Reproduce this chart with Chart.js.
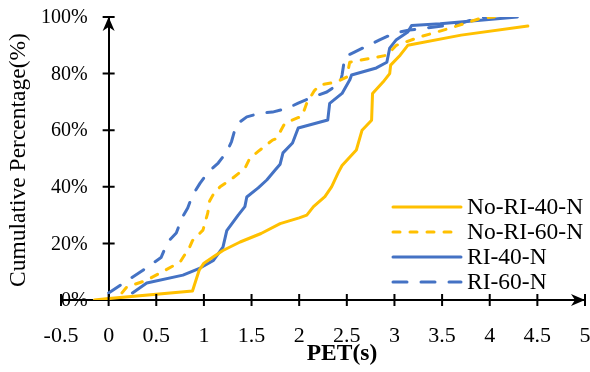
<!DOCTYPE html>
<html>
<head>
<meta charset="utf-8">
<script src="https://cdn.jsdelivr.net/npm/chart.js@4"></script>
<style>
  html, body { margin: 0; padding: 0; background: #fff; }
  #wrap { width: 590px; height: 372px; position: relative; }
</style>
</head>
<body>
<div id="wrap"><canvas id="petChart"></canvas></div>
<script>
const seriesNames = ['No-RI-40-N', 'No-RI-60-N', 'RI-40-N', 'RI-60-N'];

const noRi40X = [-0.15, 0, 0.88, 0.95, 1.0, 1.1, 1.2, 1.38, 1.6, 1.8, 2.0, 2.08, 2.15, 2.27, 2.34, 2.41, 2.45, 2.6, 2.66, 2.76, 2.77, 2.88, 2.95, 2.96, 3.06, 3.14, 3.7, 4.4];
const noRi40Y = [0, 0.5, 3.2, 10.5, 13, 15.3, 17.5, 20.5, 23.5, 27, 29, 30, 33, 36.5, 40, 45, 47.5, 53, 60, 63.5, 73, 77, 80, 83, 86.5, 90, 93.6, 96.8];

const noRi60X = [0.14, 0.19, 0.4, 0.75, 0.85, 0.88, 0.99, 1.04, 1.06, 1.11, 1.17, 1.3, 1.43, 1.48, 1.57, 1.72, 1.76, 1.85, 2.03, 2.08, 2.16, 2.22, 2.39, 2.5, 2.53, 2.92, 3.02, 3.27, 3.58, 3.9, 4.05];
const noRi60Y = [2.5, 4.6, 7, 13.4, 18.7, 21, 24.7, 30.7, 35, 38, 40, 43, 46.5, 50, 52.5, 56.5, 57, 62.5, 65, 69.6, 74, 76, 77, 78.8, 84, 86.5, 90, 93, 96, 99.5, 100];

const ri40X = [0.25, 0.4, 0.78, 0.96, 1.1, 1.2, 1.24, 1.36, 1.43, 1.45, 1.57, 1.66, 1.75, 1.8, 1.83, 1.93, 1.99, 2.3, 2.32, 2.45, 2.53, 2.55, 2.81, 2.92, 2.95, 3.02, 3.14, 3.18, 3.48, 4.29];
const ri40Y = [2.5, 6, 8.8, 11.3, 14, 18.7, 24.5, 30, 33, 36.4, 39.6, 42.4, 46, 48, 52, 55.5, 60.8, 63.6, 69.5, 73, 77.7, 79.5, 82, 84, 89, 92, 94.7, 97, 97.6, 100];

const ri60X = [0, 0.36, 0.55, 0.62, 0.71, 0.77, 0.83, 0.88, 0.96, 1.04, 1.15, 1.24, 1.29, 1.34, 1.45, 1.59, 1.72, 1.88, 1.99, 2.14, 2.29, 2.43, 2.45, 2.48, 2.58, 2.85, 3.0, 3.16, 3.42, 3.61, 3.72, 3.87, 4.0];
const ri60Y = [2.5, 10.5, 15, 20.5, 23.7, 29, 32.5, 37, 41.3, 45, 48.4, 52.3, 56, 62, 64.7, 66, 66.4, 67.8, 69.6, 71.7, 73.5, 76.7, 79.5, 86, 87.6, 92, 94.3, 95.4, 96.5, 97.3, 98, 99.6, 100];

const xTicks = [-0.5, 0, 0.5, 1, 1.5, 2, 2.5, 3, 3.5, 4, 4.5, 5];
const yTicks = [0, 20, 40, 60, 80, 100];

const yellow = '#FFC000';
const blue = '#4472C4';
const serif = "'Liberation Serif', 'Times New Roman', serif";

function toPoints(xs, ys) {
  return xs.map((x, i) => ({ x: x, y: ys[i] }));
}

function noPadding(scale) {
  scale.paddingLeft = 0;
  scale.paddingRight = 0;
  scale.paddingTop = 0;
  scale.paddingBottom = 0;
}

// tick marks, y labels, arrows, legend and axis titles
const decorations = {
  id: 'decorations',
  afterDraw(chart) {
    const ctx = chart.ctx;
    const xs = chart.scales.x;
    const ys = chart.scales.y;
    const x0 = xs.getPixelForValue(0);
    const y0 = ys.getPixelForValue(0);
    ctx.save();
    ctx.strokeStyle = '#000';
    ctx.fillStyle = '#000';
    ctx.lineWidth = 2;
    ctx.beginPath();
    xTicks.forEach(v => {
      const px = xs.getPixelForValue(v);
      ctx.moveTo(px, y0 - 6);
      ctx.lineTo(px, y0 + 6);
    });
    yTicks.forEach(v => {
      if (v === 0) return;
      const py = ys.getPixelForValue(v);
      ctx.moveTo(x0 - 6, py);
      ctx.lineTo(x0 + 6, py);
    });
    ctx.stroke();

    // y tick labels, left of the y axis
    ctx.font = '20px ' + serif;
    ctx.textAlign = 'right';
    ctx.textBaseline = 'middle';
    yTicks.forEach(v => {
      ctx.fillText(v + '%', x0 - 21, ys.getPixelForValue(v) + 1);
    });

    // arrow heads
    const xEnd = xs.getPixelForValue(5);
    const yEnd = ys.getPixelForValue(100);
    ctx.beginPath();
    ctx.moveTo(xEnd, y0);
    ctx.lineTo(xEnd - 14, y0 - 6);
    ctx.lineTo(xEnd - 10, y0);
    ctx.lineTo(xEnd - 14, y0 + 6);
    ctx.closePath();
    ctx.fill();
    ctx.beginPath();
    ctx.moveTo(x0, yEnd);
    ctx.lineTo(x0 - 6, yEnd + 14);
    ctx.lineTo(x0, yEnd + 10);
    ctx.lineTo(x0 + 6, yEnd + 14);
    ctx.closePath();
    ctx.fill();

    // legend
    ctx.textAlign = 'left';
    ctx.font = '23.5px ' + serif;
    chart.data.datasets.forEach((ds, i) => {
      const ly = 207 + i * 25;
      ctx.save();
      ctx.strokeStyle = ds.borderColor;
      ctx.lineWidth = ds.borderWidth;
      ctx.lineCap = ds.borderCapStyle;
      ctx.setLineDash(ds.borderDash);
      ctx.beginPath();
      ctx.moveTo(393, ly);
      ctx.lineTo(461, ly);
      ctx.stroke();
      ctx.restore();
      ctx.fillStyle = '#000';
      ctx.fillText(ds.label, 467, ly + 1);
    });

    // axis titles
    ctx.textAlign = 'center';
    ctx.font = 'bold 23.5px ' + serif;
    ctx.fillText('PET(s)', 342, 354);
    ctx.font = '23.5px ' + serif;
    ctx.translate(19, 160);
    ctx.rotate(-Math.PI / 2);
    ctx.fillText('Cumulative Percentage(%)', 0, 0);
    ctx.restore();
  }
};

const lineStyles = [
  { color: yellow, dash: [], cap: 'round' },
  { color: yellow, dash: [7, 10], cap: 'round' },
  { color: blue, dash: [], cap: 'round' },
  { color: blue, dash: [14, 14], cap: 'round' }
];
const seriesData = [
  toPoints(noRi40X, noRi40Y),
  toPoints(noRi60X, noRi60Y),
  toPoints(ri40X, ri40Y),
  toPoints(ri60X, ri60Y)
];

const ctx = document.getElementById('petChart').getContext('2d');
new Chart(ctx, {
  type: 'scatter',
  data: {
    datasets: seriesNames.map((name, i) => ({
      label: name,
      data: seriesData[i],
      showLine: true,
      borderColor: lineStyles[i].color,
      backgroundColor: lineStyles[i].color,
      borderWidth: 3,
      borderDash: lineStyles[i].dash,
      borderCapStyle: lineStyles[i].cap,
      borderJoinStyle: 'round',
      pointRadius: 0,
      tension: 0
    }))
  },
  options: {
    responsive: true,
    maintainAspectRatio: false,
    animation: false,
    layout: { padding: { left: 61, right: 5, top: 17, bottom: 0 } },
    scales: {
      x: {
        type: 'linear',
        min: -0.5,
        max: 5,
        afterFit(scale) { scale.height = 72; noPadding(scale); },
        afterBuildTicks(scale) { scale.ticks = xTicks.map(v => ({ value: v })); },
        grid: { display: false },
        border: { display: true, color: '#000', width: 2 },
        ticks: {
          color: '#000',
          padding: 15,
          maxRotation: 0,
          autoSkip: false,
          callback: v => String(v),
          font: { family: serif, size: 22 }
        }
      },
      y: {
        type: 'linear',
        position: { x: 0 },
        min: 0,
        max: 100,
        afterFit(scale) { noPadding(scale); },
        afterBuildTicks(scale) { scale.ticks = yTicks.map(v => ({ value: v })); },
        grid: { display: false },
        border: { display: true, color: '#000', width: 2 },
        ticks: { display: false }
      }
    },
    plugins: {
      legend: { display: false },
      tooltip: { enabled: false }
    }
  },
  plugins: [decorations]
});
</script>
</body>
</html>
